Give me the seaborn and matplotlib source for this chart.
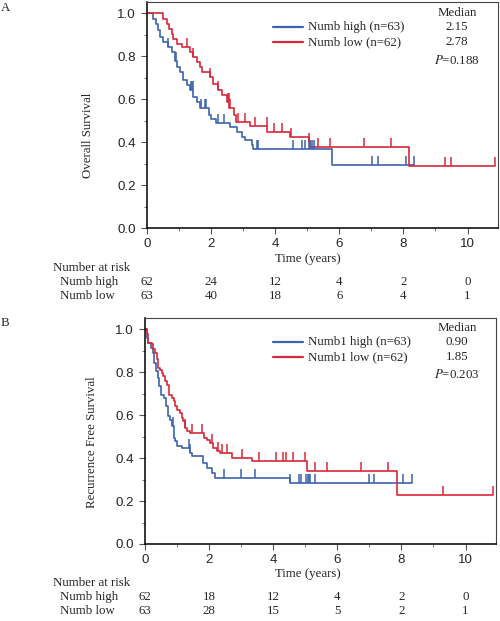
import numpy as np
import pandas as pd
import matplotlib
matplotlib.use("Agg")
import matplotlib.pyplot as plt
import matplotlib.transforms as mtransforms
from matplotlib.lines import Line2D
from matplotlib.ticker import MultipleLocator
import seaborn as sns

# ---------------- data ----------------
# Panel A: overall survival (Kaplan-Meier step points)
os_high_t = [0, 0.20, 0.28, 0.35, 0.42, 0.51, 0.67, 0.77, 0.88, 0.95, 1.03, 1.11, 1.24, 1.34,
             1.45, 1.55, 1.64, 1.92, 2.00, 2.15, 2.59, 2.80, 2.96, 3.07, 3.27, 3.32, 5.77, 8.34]
os_high_s = [1.0, 0.975, 0.952, 0.921, 0.890, 0.867, 0.843, 0.820, 0.780, 0.750, 0.727, 0.688, 0.665, 0.642,
             0.611, 0.587, 0.557, 0.526, 0.510, 0.487, 0.471, 0.448, 0.425, 0.409, 0.386, 0.366, 0.293, 0.293]
os_high_cens = [0.67, 0.90, 1.36, 1.40, 1.44, 1.70, 1.80, 1.85, 2.20, 2.40, 3.43, 3.47, 4.57, 4.83,
                4.94, 5.04, 5.10, 5.15, 5.20, 7.02, 7.20, 8.09, 8.34]

os_low_t = [0, 0.51, 0.61, 0.70, 0.77, 0.82, 0.93, 1.08, 1.34, 1.45, 1.55, 1.64, 1.71, 1.97, 2.05,
            2.20, 2.33, 2.49, 2.57, 2.70, 2.78, 3.20, 3.74, 4.47, 5.04, 5.08, 8.17, 10.87]
os_low_s = [1.0, 0.975, 0.952, 0.929, 0.906, 0.882, 0.859, 0.843, 0.820, 0.797, 0.773, 0.750, 0.727, 0.704, 0.673,
            0.642, 0.619, 0.587, 0.557, 0.525, 0.495, 0.475, 0.448, 0.425, 0.401, 0.378, 0.288, 0.288]
os_low_cens = [1.24, 1.45, 1.97, 2.23, 2.52, 2.56, 2.60, 2.85, 3.06, 3.36, 3.73, 3.95, 4.20, 4.50,
               5.05, 5.35, 5.72, 6.76, 7.62, 9.31, 9.47, 10.87]

# Panel B: recurrence free survival
rfs_high_t = [0, 0.05, 0.10, 0.18, 0.24, 0.28, 0.33, 0.39, 0.44, 0.49, 0.59, 0.66, 0.71, 0.78, 0.83,
              0.90, 0.94, 1.01, 1.15, 1.41, 1.46, 1.82, 1.93, 2.08, 2.19, 4.53, 8.33]
rfs_high_s = [1.0, 0.961, 0.938, 0.914, 0.891, 0.844, 0.805, 0.774, 0.735, 0.696, 0.681, 0.642, 0.595, 0.579, 0.548,
              0.495, 0.478, 0.455, 0.447, 0.424, 0.408, 0.377, 0.354, 0.330, 0.307, 0.284, 0.284]
rfs_high_cens = [0.86, 1.38, 1.41, 2.45, 2.99, 3.42, 4.53, 4.81, 4.88, 5.02, 5.07, 5.11, 5.16, 5.31,
                 6.98, 7.13, 8.05, 8.33]

rfs_low_t = [0, 0.05, 0.10, 0.21, 0.26, 0.31, 0.365, 0.42, 0.47, 0.52, 0.57, 0.625, 0.68, 0.76, 0.83,
             0.89, 0.94, 1.01, 1.09, 1.15, 1.20, 1.25, 1.30, 1.41, 1.85, 1.93, 2.03, 2.13, 2.24, 2.34,
             2.71, 3.33, 5.05, 7.86, 10.85]
rfs_low_s = [1.0, 0.977, 0.938, 0.930, 0.907, 0.891, 0.860, 0.821, 0.813, 0.798, 0.782, 0.758, 0.743, 0.696, 0.681,
             0.665, 0.642, 0.626, 0.611, 0.587, 0.572, 0.541, 0.525, 0.517, 0.493, 0.486, 0.470, 0.447, 0.431, 0.424,
             0.400, 0.385, 0.340, 0.229, 0.229]
rfs_low_cens = [1.25, 1.46, 1.77, 2.08, 2.29, 2.40, 2.55, 3.02, 3.57, 4.09, 4.32, 4.41, 4.61, 5.00,
                5.31, 5.68, 6.74, 7.58, 9.30, 10.85]

risk_times = [0, 2, 4, 6, 8, 10]
os_risk_high = [62, 24, 12, 4, 2, 0]
os_risk_low = [63, 40, 18, 6, 4, 1]
rfs_risk_high = [62, 18, 12, 4, 2, 0]
rfs_risk_low = [63, 28, 15, 5, 2, 1]

os_labels = ["Numb high (n=63)", "Numb low (n=62)"]
rfs_labels = ["Numb1 high (n=63)", "Numb1 low (n=62)"]
os_medians = ["2.15", "2.78"]
rfs_medians = ["0.90", "1.85"]
os_p = "0.188"
rfs_p = "0.203"

BLUE = "#3d62ad"
RED = "#d8283a"

# ---------------- style ----------------
sns.set_style("ticks")
plt.rcParams["font.family"] = ["Liberation Serif", "DejaVu Serif"]
plt.rcParams["mathtext.fontset"] = "stix"

W, H = 500, 621
fig = plt.figure(figsize=(W / 100, H / 100), dpi=100)


def fx(px):
    return px / W


def fy(py):
    return 1 - py / H


SERIF = 9.3
SANS = 9.6


def km_panel(rect, t_hi, s_hi, c_hi, t_lo, s_lo, c_lo, ylab, ylab_x, ylab_y, labels, medians, pval,
             risk_hi, risk_lo, top_px, panel_letter):
    ax = fig.add_axes(rect)
    df = pd.concat([
        pd.DataFrame({"t": t_hi, "S": s_hi, "g": "high"}),
        pd.DataFrame({"t": t_lo, "S": s_lo, "g": "low"}),
    ])
    sns.lineplot(data=df, x="t", y="S", hue="g", palette={"high": BLUE, "low": RED},
                 drawstyle="steps-post", estimator=None, legend=False, lw=1.2, ax=ax)
    # censor marks (upward ticks from the curve)
    for tt, ss, cc, col in [(t_hi, s_hi, c_hi, BLUE), (t_lo, s_lo, c_lo, RED)]:
        tt = np.asarray(tt); ss = np.asarray(ss); cc = np.asarray(cc)
        idx = np.searchsorted(tt, cc, side="right") - 1
        yv = ss[idx]
        ax.vlines(cc, yv, yv + 0.042, colors=col, lw=1.1)
    ax.set_xlim(0, 10.95)
    ax.set_ylim(0, 1.053)
    ax.xaxis.set_major_locator(MultipleLocator(2))
    ax.xaxis.set_minor_locator(MultipleLocator(1))
    ax.yaxis.set_minor_locator(MultipleLocator(0.1))
    ax.set_yticks([0, 0.2, 0.4, 0.6, 0.8, 1.0])
    ax.set_yticklabels(["0.0", "0.2", "0.4", "0.6", "0.8", "1.0"])
    ax.tick_params(which="major", direction="out", length=4, width=0.8, color="#555555",
                   labelsize=SANS)
    ax.tick_params(axis="y", which="major", pad=4)
    ax.tick_params(axis="x", which="major", pad=3)
    ax.tick_params(which="minor", direction="out", length=2.5, width=0.7, color="#777777")
    for lab in ax.get_xticklabels() + ax.get_yticklabels():
        lab.set_fontfamily("Liberation Sans")
    for side in ["top", "right"]:
        ax.spines[side].set_visible(True)
        ax.spines[side].set_color("#444444")
        ax.spines[side].set_linewidth(0.8)
    for side in ["left", "bottom"]:
        ax.spines[side].set_color("black")
        ax.spines[side].set_linewidth(1.1)
    ax.set_xlabel("")
    ax.set_ylabel("")

    # y label
    fig.text(fx(ylab_x), fy(ylab_y), ylab, rotation=90, ha="center", va="center", fontsize=SERIF)
    # panel letter
    fig.text(fx(1), fy(top_px + 6), panel_letter, ha="left", va="center", fontsize=SERIF)

    # legend / median block
    rows = [top_px + 25, top_px + 40]
    for py, col, lab, med in zip(rows, [BLUE, RED], labels, medians):
        fig.add_artist(Line2D([fx(273), fx(303)], [fy(py), fy(py)], color=col, lw=1.6,
                              transform=fig.transFigure))
        fig.text(fx(308), fy(py), lab, ha="left", va="center", fontsize=SERIF)
        fig.text(fx(457), fy(py), med, ha="center", va="center", fontsize=SERIF)
    fig.text(fx(457), fy(top_px + 11), "Median", ha="center", va="center", fontsize=SERIF)
    fig.text(fx(457), fy(top_px + 58), r"$\mathit{P}$=" + pval, ha="center", va="center",
             fontsize=SERIF)

    # x label
    fig.text(fx(308), fy(top_px + 257), "Time (years)", ha="center", va="center", fontsize=SERIF)

    # number at risk
    trans = mtransforms.blended_transform_factory(ax.transData, fig.transFigure)
    fig.text(fx(53), fy(top_px + 266), "Number at risk", ha="left", va="center", fontsize=SERIF)
    grp = ["Numb high", "Numb low"]
    for py, name, vals in zip([top_px + 280, top_px + 294], grp, [risk_hi, risk_lo]):
        fig.text(fx(60), fy(py), name, ha="left", va="center", fontsize=SERIF)
        for t, v in zip(risk_times, vals):
            ax.text(t, fy(py), str(v), transform=trans, ha="center", va="center",
                    fontsize=SERIF, clip_on=False)
    return ax


# Panel A
axA = km_panel([fx(147), fy(228), fx(498) - fx(147), fy(2) - fy(228)],
               os_high_t, os_high_s, os_high_cens, os_low_t, os_low_s, os_low_cens,
               "Overall Survival", 88, 135, os_labels, os_medians, os_p,
               os_risk_high, os_risk_low, 2, "A")

# Panel B
axB = km_panel([fx(145), fy(544), fx(496) - fx(145), fy(318) - fy(544)],
               rfs_high_t, rfs_high_s, rfs_high_cens, rfs_low_t, rfs_low_s, rfs_low_cens,
               "Recurrence Free Survival", 92, 442, rfs_labels, rfs_medians, rfs_p,
               rfs_risk_high, rfs_risk_low, 317, "B")

fig.savefig("out.png", dpi=100)
